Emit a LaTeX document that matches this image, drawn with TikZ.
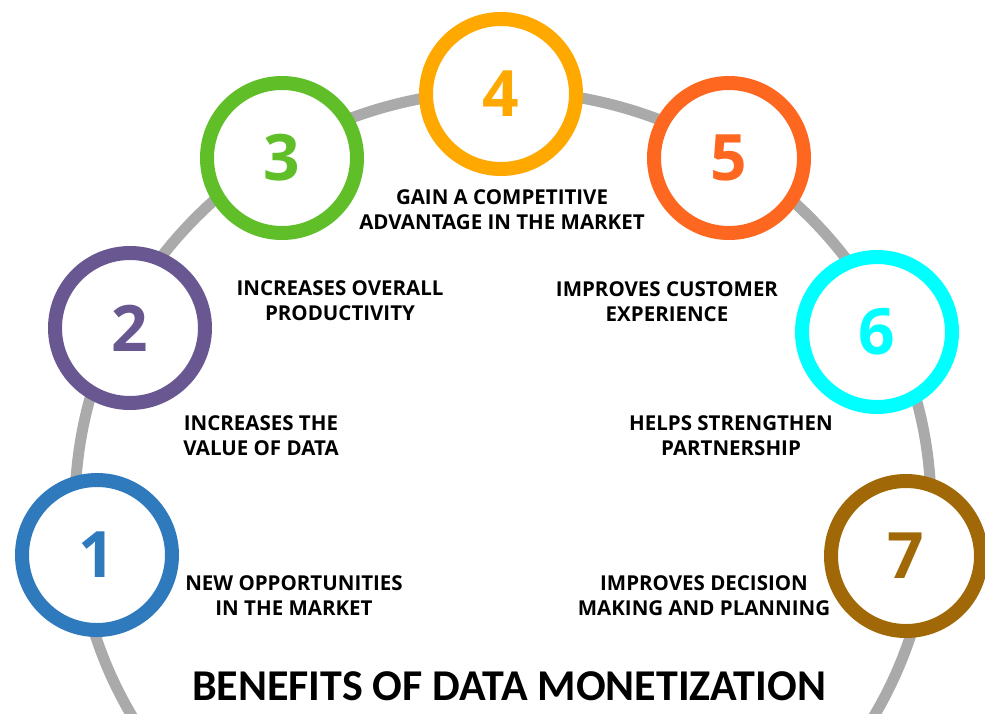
\documentclass[tikz,border=0pt]{standalone}
\usepackage{fontspec}
\setmainfont{Open Sans}
\newfontfamily\titlefont{Carlito}
\definecolor{arcgray}{RGB}{170,170,170}
\definecolor{cone}{RGB}{46,122,189}
\definecolor{ctwo}{RGB}{104,87,145}
\definecolor{cthree}{RGB}{96,190,40}
\definecolor{cfour}{RGB}{255,168,0}
\definecolor{cfive}{RGB}{253,103,32}
\definecolor{csix}{RGB}{0,255,255}
\definecolor{cseven}{RGB}{160,104,6}

\begin{document}
\begin{tikzpicture} [x=1pt, y=-1pt,
  ring/.style={circle, draw=#1, text=#1, fill=white, line width=14pt, minimum size=150pt, inner sep=0pt, font=\fontsize{64}{64}\selectfont\bfseries},
  benefit/.style={align=center, inner sep=0pt, font=\fontsize{20.5}{25}\selectfont\bfseries}]
\useasboundingbox (0,0) rectangle (985,713);
\begin{scope}
\clip (0,0) rectangle (985,713);
\draw[arcgray, line width=11pt] (503,508) ellipse [x radius=428, y radius=417];
\end{scope}

\foreach \n/\x/\y/\c in {1/97/555/cone, 2/130/328/ctwo, 3/282/158/cthree, 4/501/94/cfour, 5/729/158/cfive, 6/877/332/csix, 7/906/556/cseven}
  \node[ring=\c] (c\n) at (\x,\y) {\n};

\node[benefit] (t1) at (294,596) {NEW OPPORTUNITIES\\IN THE MARKET};
\node[benefit] (t2) at (261,436) {INCREASES THE\\VALUE OF DATA};
\node[benefit] (t3) at (340,301) {INCREASES OVERALL\\PRODUCTIVITY};
\node[benefit] (t4) at (502,210) {GAIN A COMPETITIVE\\ADVANTAGE IN THE MARKET};
\node[benefit] (t5) at (667,302) {IMPROVES CUSTOMER\\EXPERIENCE};
\node[benefit] (t6) at (731,436) {HELPS STRENGTHEN\\PARTNERSHIP};
\node[benefit] (t7) at (704,596) {IMPROVES DECISION\\MAKING AND PLANNING};

\node[font=\titlefont\fontsize{44}{44}\selectfont\bfseries] (title) at (509,686) {BENEFITS OF DATA MONETIZATION};
\end{tikzpicture}
\end{document}
